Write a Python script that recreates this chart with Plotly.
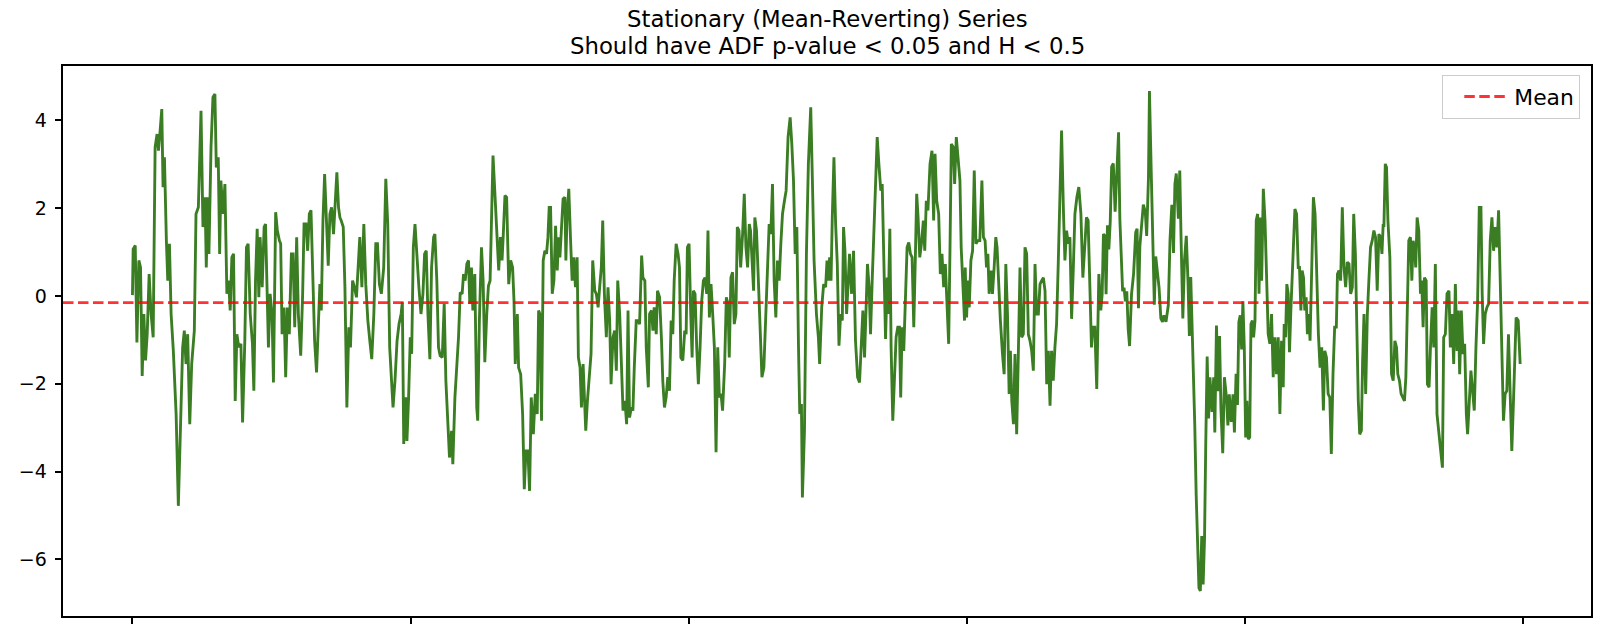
import plotly.graph_objects as go

# ---- data (index, value) ----
segment_000 = [(0, 0.02), (0.5, 1.07), (2.0, 1.15), (3.2, -1.06), (4.6, 0.81), (5.8, 0.65), (7.0, -1.82), (8.2, -0.41), (9.4, -1.47), (10.6, -0.87), (12.0, 0.50), (13.4, -0.41), (14.9, -0.94), (16.3, 3.39), (17.7, 3.69), (18.7, 3.31), (19.9, 3.77), (21.1, 4.26), (22.0, 2.48), (23.0, 3.16), (24.4, 1.26), (25.4, 0.35), (26.6, 1.19), (27.8, -0.41), (29.4, -1.25), (31.4, -2.69), (33.0, -4.78), (34.5, -2.69), (36.1, -1.17), (37.3, -0.79), (38.5, -1.55), (39.7, -0.87), (41.2, -2.92), (42.6, -1.55), (44.5, -0.79), (45.7, 1.87), (47.4, 2.02), (49.3, 4.22), (50.7, 1.57), (52.2, 2.25), (53.1, 0.65), (54.1, 2.25), (55.0, 0.96), (56.5, 3.39), (57.9, 4.53), (59.3, 4.60), (60.3, 2.93), (61.7, 3.16), (62.7, 0.96), (63.6, 2.63), (65.1, 1.87), (66.5, 2.55), (67.9, 0.05), (69.1, 0.35), (70.3, -0.33), (71.5, 0.88), (72.7, 0.96), (73.9, -2.39), (75.1, -0.87), (76.5, -1.17), (78.0, -1.09), (79.2, -2.88), (80.8, -1.02), (82.0, 1.11), (83.2, 1.19), (84.7, -0.41), (86.3, -1.09), (87.3, -2.16), (88.5, 0.35), (89.7, 1.53), (90.9, -0.03), (91.8, 1.34), (93.3, 0.20), (94.7, 1.57), (95.7, 1.64)]
segment_100 = [(97.8, -1.17), (99.0, 0.05), (100.4, -0.41), (101.4, -1.97), (103.0, 1.91), (104.2, 1.49), (105.7, 1.26), (106.6, 1.19), (107.6, -0.87), (109.0, -0.26), (110.2, -1.85), (111.4, -0.26), (112.8, -0.87), (114.3, 0.96), (115.5, 0.96), (116.7, -0.71), (118.1, 1.34), (119.3, -0.41), (121.0, -1.36), (122.4, 0.05), (123.4, 1.64), (124.8, 1.64), (126.0, 1.03), (127.2, 1.87), (128.4, 1.95), (129.6, 0.35), (131.0, -1.02), (132.4, -1.74), (133.9, -0.41), (134.8, 0.27), (135.8, -0.33), (137.0, 1.72), (138.2, 2.78), (139.6, 1.79), (140.8, 0.69), (142.0, 1.87), (143.2, 2.02), (144.6, 1.41), (145.8, 2.02), (147.0, 2.82), (148.2, 2.02), (149.2, 1.79), (150.1, 1.72), (151.6, 1.57), (152.8, 0.20), (154.2, -2.54), (155.6, -0.71), (156.8, -1.17), (158.3, 0.35), (159.7, 0.20), (161.1, -0.03), (162.3, 0.65), (163.5, 1.34), (165.0, 0.20), (166.4, 1.64), (167.8, 0.27), (169.3, -0.56), (170.7, -1.02), (172.1, -1.44), (173.6, -0.41), (175.0, 1.19), (176.2, 1.19), (177.6, 0.27), (179.0, 0.05), (180.7, 0.65), (182.2, 2.67), (183.6, 1.64), (185.0, -1.17), (186.2, -1.85), (187.4, -2.54), (188.8, -1.93), (190.3, -1.02), (191.7, -0.64), (193.2, -0.41), (194.1, -0.14), (195.1, -3.37), (196.5, -2.31)]
segment_200 = [(197.4, -3.30), (198.6, -2.31), (199.8, -0.94), (200.8, -1.32), (202.0, 1.11), (203.2, 1.64), (204.6, 0.81), (206.0, 0.20), (207.5, -0.41), (208.9, 0.05), (210.1, 0.96), (211.3, 1.03), (212.5, -0.41), (213.9, -1.44), (215.1, 0.65), (216.6, 1.34), (217.5, 1.41), (218.9, 0.35), (220.1, -1.17), (221.3, -1.36), (222.8, -1.40), (224.2, -0.18), (225.4, -1.93), (226.6, -2.69), (228.0, -3.68), (229.5, -3.07), (230.4, -3.83), (231.9, -2.31), (233.3, -1.63), (234.5, -0.94), (235.7, 0.08), (237.1, 0.05), (238.1, 0.50), (239.3, 0.35), (240.5, 0.73), (241.7, 0.81), (242.6, -0.18), (243.8, 0.65), (244.8, -0.33), (246.2, 0.50), (247.6, -2.54), (248.3, -2.84), (249.5, -0.56), (251.0, 1.11), (252.2, 0.35), (253.4, -1.51), (254.8, -0.41), (256.0, 0.23), (257.2, 0.35), (258.4, 2.02), (259.3, 3.20), (260.8, 2.25), (262.0, 1.49), (263.4, 0.58), (264.6, 1.34), (265.8, 0.81), (266.7, 1.41), (267.9, 2.29), (269.1, 2.25), (270.6, 0.27), (272.0, 0.81), (273.4, 0.65), (274.4, -0.11), (275.3, -1.55), (276.8, -0.41), (277.7, -1.63), (279.2, -1.78), (280.6, -2.69), (281.8, -4.40), (283.0, -3.53), (284.4, -3.53), (285.6, -4.44), (286.8, -2.31), (288.3, -3.15), (289.7, -2.23), (291.1, -2.69), (292.1, -0.33), (293.0, -0.41), (294.2, -2.84), (295.4, 0.81), (296.6, 1.03)]
segment_300 = [(297.8, 0.96), (298.8, 1.34), (299.7, 2.02), (300.7, 2.02), (301.9, 0.05), (303.1, 0.35), (304.3, 1.60), (305.5, 0.58), (306.4, 1.34), (307.4, 0.88), (308.6, 1.57), (309.7, 2.21), (311.0, 2.25), (311.7, 0.81), (312.6, 1.87), (313.8, 2.44), (315.0, 1.34), (316.2, 0.35), (317.4, 0.88), (318.6, 0.20), (319.8, 0.88), (320.7, -1.40), (321.9, -1.63), (322.9, -2.54), (324.1, -1.55), (325.0, -2.54), (326.0, -3.07), (327.2, -2.39), (328.4, -1.93), (329.8, -1.32), (331.0, 0.81), (332.5, 0.12), (333.6, 0.05), (334.9, -0.26), (336.0, 0.20), (337.2, 0.65), (338.2, 1.72), (339.4, 0.05), (340.8, -0.94), (342.0, 0.20), (343.2, -0.56), (344.2, -2.01), (345.6, -0.94), (346.8, -0.79), (348.0, -1.70), (349.0, 0.35), (350.4, -0.41), (351.6, -1.32), (352.8, -2.61), (354.2, -2.39), (355.4, -2.92), (356.4, -0.33), (357.5, -2.77), (358.8, -2.54), (359.9, -2.61), (360.9, -1.63), (362.3, -0.56), (363.5, -0.56), (364.7, -0.64), (366.2, 0.92), (367.1, 0.42), (368.5, 0.35), (369.5, -1.17), (371.0, -2.08), (371.9, -0.41), (373.3, -0.33), (374.3, -0.79), (375.2, -0.26), (376.7, -0.87), (377.6, 0.12), (379.1, -0.03), (380.5, -1.02), (381.4, -1.93), (382.6, -2.54), (383.8, -2.31), (385.0, -1.85), (386.2, -2.16), (387.4, -0.56), (388.6, -0.87), (389.6, 0.35), (391.0, 1.19), (392.4, 0.96), (393.4, 0.65), (394.4, -1.40), (395.8, -1.47), (397.2, -0.79)]
segment_400 = [(398.2, -0.87), (399.1, 1.11), (400.3, 1.19), (401.5, -0.41), (402.5, -1.40), (403.4, 0.12), (404.6, 0.05), (405.8, -1.17), (407.0, -2.01), (408.2, -1.17), (409.4, -0.11), (410.6, 0.35), (411.8, 0.42), (413.0, 0.05), (413.9, 1.49), (414.9, -0.49), (416.1, 0.27), (417.3, -0.41), (418.5, -1.17), (419.7, -3.56), (420.9, -1.17), (422.1, -2.31), (423.3, -2.23), (424.4, -2.61), (425.9, -1.55), (427.1, -0.03), (428.3, -0.18), (429.2, -1.40), (430.4, 0.42), (431.6, 0.54), (432.8, -0.64), (434.0, -0.41), (435.0, 1.57), (436.2, 1.49), (437.4, 0.65), (438.8, 1.41), (440.0, 2.33), (441.2, 1.11), (442.4, 0.65), (443.6, 1.64), (444.5, 1.49), (445.5, 0.88), (446.7, 0.12), (447.6, 1.79), (448.8, 1.49), (449.8, 0.65), (451.2, -0.79), (452.7, -1.85), (454.1, -1.63), (455.5, -0.41), (456.7, 0.81), (457.9, 1.64), (459.1, 1.41), (460.3, 2.55), (461.5, 0.35), (462.7, -0.49), (463.9, 0.81), (465.1, 0.35), (466.3, 1.19), (467.5, 1.87), (468.9, 2.17), (470.1, 2.40), (471.5, 3.62), (473.0, 4.07), (474.2, 3.46), (475.4, 2.63), (476.6, 0.96), (477.8, 1.57), (479.0, -1.17), (479.9, -2.69), (481.1, -2.46), (481.8, -4.59), (483.3, -3.07), (484.7, 0.96), (486.1, 3.01), (487.8, 4.30), (489.0, 2.63), (490.2, 0.81), (491.9, -0.41), (493.3, -0.94), (494.2, -1.55), (495.7, -0.26), (497.1, 0.27)]
segment_500 = [(498.5, 0.20), (499.5, 0.81), (500.4, 0.35), (501.4, 0.88), (502.4, 0.35), (503.3, 1.79), (504.5, 3.16), (505.7, 1.64), (506.9, 0.73), (508.1, -1.13), (509.3, -0.41), (510.5, -0.56), (511.4, 1.57), (512.4, 1.03), (513.6, -0.41), (514.8, 0.35), (515.7, 0.96), (517.2, 0.05), (518.6, 1.03), (520.0, -1.02), (521.5, -1.85), (522.9, -1.97), (524.3, -1.17), (525.3, -0.33), (526.5, -1.40), (527.7, -0.33), (528.6, 0.73), (529.8, 0.20), (530.8, -0.87), (532.0, 0.35), (533.2, 1.49), (534.4, 2.63), (535.6, 3.62), (536.8, 3.01), (538.2, 2.40), (539.2, 2.55), (540.4, 0.58), (541.6, -0.98), (542.8, 0.42), (543.5, -0.41), (544.7, 1.53), (545.6, -1.17), (546.8, -2.84), (548.0, -1.93), (549.2, -0.94), (550.4, -0.71), (551.6, -0.71), (552.5, -2.31), (553.5, -0.71), (554.7, -1.25), (555.9, 0.05), (557.1, 1.11), (558.3, 1.22), (559.5, 0.96), (560.7, 0.88), (561.9, -0.71), (563.1, 0.96), (564.0, 2.33), (565.0, 1.79), (566.2, 0.88), (567.4, 1.19), (568.8, 1.72), (569.8, 1.03), (570.9, 2.17), (572.1, 1.95), (573.6, 3.01), (575.0, 3.31), (576.2, 1.72), (577.2, 3.24), (578.4, 2.17), (579.8, 1.87), (581.0, 0.50), (582.2, 0.96), (583.4, 0.20), (584.6, 0.73), (585.8, -0.03), (587.0, -1.09), (587.9, 0.96), (588.9, 3.46), (590.3, 3.39), (591.3, 2.55), (592.5, 3.62), (593.7, 3.09), (595.1, 2.63), (596.0, 1.11), (597.0, 0.35), (598.4, -0.56)]
segment_600 = [(598.9, 0.65), (599.9, -0.49), (600.8, 0.35), (601.8, -0.26), (603.0, 0.81), (604.2, 1.03), (605.4, 2.86), (606.6, 1.19), (608.0, 1.26), (609.4, 1.26), (610.9, 2.63), (612.0, 1.34), (613.2, 1.26), (614.2, 0.65), (615.2, 0.96), (616.1, 0.05), (617.5, 0.58), (618.5, 0.05), (619.7, 0.65), (620.9, 1.34), (621.8, 1.11), (622.8, 0.35), (624.2, -0.56), (625.7, -1.32), (626.9, -1.78), (628.1, 0.73), (629.3, -0.41), (630.5, -2.23), (631.4, -1.25), (632.4, -2.39), (633.6, -2.92), (634.7, -1.32), (635.9, -3.15), (637.1, -1.32), (638.3, 0.65), (639.5, -0.94), (640.7, -0.87), (641.9, 1.11), (643.1, 0.96), (644.3, -0.87), (645.5, -1.02), (646.7, -1.25), (647.9, -1.70), (649.1, 0.73), (650.3, -0.41), (651.5, -0.41), (652.7, 0.27), (653.9, 0.35), (655.1, 0.42), (656.3, 0.12), (657.5, -2.01), (658.7, -1.25), (659.9, -2.50), (661.0, -1.25), (662.2, -1.93), (663.4, -1.17), (664.6, -0.64), (665.8, 0.73), (667.0, 2.25), (668.2, 3.77), (669.6, 1.87), (670.6, 0.81), (671.8, 1.49), (673.0, 1.19), (674.2, 1.34), (675.4, -0.52), (676.6, 0.58), (677.8, 1.87), (679.2, 2.25), (680.6, 2.48), (682.1, 1.87), (683.5, 0.42), (685.0, 1.19), (686.1, 1.79), (687.3, 1.72), (688.5, 0.20), (689.7, -1.17), (690.7, -0.71), (692.1, -0.71), (693.5, -2.12), (695.0, 0.50), (696.4, -0.33), (697.4, 0.05), (698.3, 1.41)]
segment_700 = [(699.3, 1.37), (700.2, 0.04), (701.2, 1.61), (702.2, 1.06), (703.2, 1.69), (704.2, 2.94), (705.4, 3.02), (706.7, 1.92), (707.9, 2.94), (709.2, 3.73), (710.1, 1.76), (711.1, 0.82), (712.1, 0.11), (713.1, 0.19), (714.1, -0.12), (715.1, 0.11), (716.1, -0.75), (717.1, -1.14), (718.5, 0.04), (720.0, 0.51), (721.5, 1.45), (722.5, 1.53), (723.5, -0.28), (724.5, 1.13), (725.5, 1.61), (727.0, 2.08), (728.4, 1.92), (729.4, 1.37), (730.7, 2.71), (731.4, 4.67), (732.6, 2.94), (733.9, 0.98), (734.9, -0.20), (735.9, 0.90), (737.1, 0.51), (738.3, 0.19), (739.6, -0.51), (740.8, -0.59), (741.8, -0.44), (743.3, -0.59), (745.0, -0.20), (746.2, 1.29), (747.5, 2.08), (748.7, 0.98), (749.7, 2.55), (750.7, 2.79), (752.2, 1.76), (753.2, 2.86), (754.1, 1.37), (755.4, -0.51), (756.6, 0.82), (757.9, 1.37), (759.1, 0.35), (760.1, -0.91), (761.1, 0.43), (762.5, -0.99), (764.0, -2.95), (765.0, -4.52), (766.0, -5.86), (767.0, -6.65), (768.0, -6.72), (769.0, -5.47), (770.0, -6.57), (771.0, -5.54), (771.9, -3.34), (772.9, -1.38), (773.9, -2.79), (774.9, -1.85), (776.4, -2.64), (777.6, -1.85), (778.4, -3.11), (779.6, -0.67), (780.8, -2.17), (781.8, -0.91), (782.8, -2.56), (784.1, -3.58), (785.3, -1.85), (786.8, -2.32), (787.8, -2.95), (788.8, -2.24), (790.2, -2.87), (791.5, -2.24), (792.5, -3.11), (793.7, -1.77), (794.7, -2.48), (795.7, -0.59), (796.7, -0.44), (797.7, -1.22), (798.6, -0.12)]
segment_800 = [(799.6, -1.17), (800.6, -3.22), (801.5, -2.39), (802.5, -3.26), (803.5, -3.22), (804.4, -0.64), (805.4, -0.56), (806.3, -0.94), (807.3, -0.56), (808.2, 1.72), (809.2, 1.87), (810.2, 0.05), (811.1, 1.79), (812.1, 0.35), (813.3, 2.44), (814.5, 1.72), (815.6, 0.58), (816.8, -0.87), (818.0, -1.09), (819.2, -0.41), (820.4, -1.85), (821.6, -0.94), (822.8, -1.78), (824.0, -0.94), (825.2, -2.69), (826.4, -1.02), (827.6, -2.08), (828.3, -0.64), (829.3, -0.94), (830.2, 0.27), (831.2, 0.05), (832.1, -1.28), (833.1, -0.33), (834.5, 0.65), (836.0, 1.98), (837.2, 1.87), (838.4, 0.65), (839.3, 0.65), (840.3, -0.33), (841.2, 0.58), (842.2, 0.42), (843.1, -0.33), (844.1, -0.03), (845.0, -0.87), (846.0, -0.41), (846.9, -1.02), (848.2, 0.65), (849.3, 2.25), (850.5, 1.87), (851.7, 0.20), (852.9, -0.87), (854.1, -1.63), (855.3, -1.17), (856.5, -2.61), (857.5, -1.25), (858.7, -1.40), (859.9, -2.23), (861.1, -2.31), (862.2, -3.60), (863.4, -1.78), (864.6, -0.71), (865.8, -0.71), (866.6, 0.50), (867.7, 0.58), (868.9, 0.35), (870.1, 2.02), (871.3, 0.65), (872.5, 0.20), (873.7, 0.77), (874.9, 0.73), (876.1, 0.05), (877.3, 0.20), (878.3, 1.87), (879.5, 0.96), (880.4, -0.79), (881.6, -2.39), (882.6, -3.15), (883.8, -3.07), (884.7, -1.47), (885.7, -0.41), (886.9, -2.23), (888.1, -0.41), (889.3, 0.42), (890.4, 1.11), (891.6, 1.26), (892.8, 1.49), (894.0, 1.34), (895.2, 0.12), (896.4, 1.41), (897.6, 1.34), (898.6, 0.96), (899.5, 1.64)]
segment_900 = [(900.0, 1.57), (901.0, 3.01), (901.9, 2.93), (902.9, 1.72), (904.3, 0.88), (905.5, -1.78), (906.7, -1.93), (907.9, -1.02), (909.1, -1.17), (910.0, -1.78), (911.2, -1.93), (912.4, -2.23), (913.6, -2.31), (914.8, -2.39), (915.8, -1.85), (917.0, 0.35), (917.9, 1.26), (919.1, 1.34), (920.1, 0.35), (921.0, 1.26), (922.0, 1.11), (922.9, 0.65), (923.9, 1.79), (925.1, 1.49), (926.3, 0.05), (927.2, 0.35), (928.2, -0.71), (929.2, 0.42), (930.4, 0.35), (931.3, -2.01), (932.5, -2.08), (933.5, -1.17), (934.7, -0.26), (935.9, -1.17), (937.0, 0.73), (938.2, -2.69), (939.4, -3.15), (940.6, -3.45), (942.1, -3.91), (943.0, -0.94), (944.2, -0.87), (945.4, 0.05), (946.8, 0.12), (947.8, -1.17), (949.0, -0.41), (950.2, -1.55), (951.4, 0.27), (952.6, -1.25), (953.5, -0.33), (954.5, -1.78), (955.7, -0.33), (956.9, -1.32), (958.1, -1.09), (959.3, -2.69), (960.2, -3.15), (961.4, -2.54), (962.6, -1.70), (963.8, -2.16), (965.0, -2.61), (966.2, -1.17), (967.4, -0.11), (968.6, 2.02), (969.8, 2.02), (970.7, 0.05), (971.7, -1.09), (972.9, -0.41), (974.1, -0.26), (975.3, -0.18), (976.5, 1.26), (977.7, 1.79), (978.9, 1.03), (980.1, 1.57), (981.3, 1.11), (982.5, 1.95), (983.7, 0.12), (984.9, -1.78), (986.0, -2.84), (987.2, -2.23), (988.4, -2.16), (989.6, -0.87), (990.8, -2.39), (992.0, -3.53), (993.2, -2.39), (994.2, -1.02), (995.1, -0.49), (996.6, -0.56), (998.0, -1.55)]

mean_value = -0.15
series_length = 1000
x_ticks = [0, 200, 400, 600, 800, 1000]
y_ticks = [-6, -4, -2, 0, 2, 4]
title_lines = ["Stationary (Mean-Reverting) Series",
               "Should have ADF p-value &lt; 0.05 and H &lt; 0.5"]

segments = [segment_000, segment_100, segment_200, segment_300, segment_400,
            segment_500, segment_600, segment_700, segment_800, segment_900]
t = [p[0] for s in segments for p in s]
v = [p[1] for s in segments for p in s]

# matplotlib-like 5% autoscale margins
x_lo, x_hi = 0, series_length - 1
x_pad = 0.05 * (x_hi - x_lo)
y_lo, y_hi = min(v), max(v)
y_pad = 0.05 * (y_hi - y_lo)

FONT = "DejaVu Sans"
PT = 1.9  # pixels per point in the reference

fig = go.Figure()
fig.add_trace(go.Scatter(
    x=t, y=v, mode="lines",
    line=dict(color="rgb(58,125,34)", width=1.5 * PT),
    showlegend=False, hoverinfo="skip",
))
fig.add_hline(
    y=mean_value,
    line=dict(color="rgba(255,0,0,0.8)", width=1.5 * PT, dash="10.5px,4.5px"),
    showlegend=True, name="Mean",
)

axis_common = dict(
    showline=True, mirror=True, linecolor="black", linewidth=0.8 * PT,
    ticks="outside", ticklen=3.5 * PT, tickwidth=0.8 * PT, tickcolor="black",
    showgrid=False, zeroline=False,
    tickfont=dict(family=FONT, size=10 * PT, color="black"),
)

# two title lines, placed like matplotlib (centres ~18 px and ~46 px from top)
for line_text, shift in zip(title_lines, [47.5, 20.0]):
    fig.add_annotation(
        text=line_text, x=0.5, xref="paper", xanchor="center",
        y=1, yref="paper", yanchor="middle", yshift=shift,
        showarrow=False,
        font=dict(family=FONT, size=12 * PT, color="black"),
    )

fig.update_layout(
    width=1600, height=642,
    margin=dict(l=63, r=7, t=66, b=26),
    paper_bgcolor="white", plot_bgcolor="white",
    font=dict(family=FONT, size=10 * PT, color="black"),
    xaxis=dict(range=[x_lo - x_pad, x_hi + x_pad], tickvals=x_ticks,
               showticklabels=False, **axis_common),
    yaxis=dict(range=[y_lo - y_pad, y_hi + y_pad], tickvals=y_ticks,
               ticklabelstandoff=4, **axis_common),
    legend=dict(
        x=0.993, y=0.984, xanchor="right", yanchor="top",
        bgcolor="rgba(255,255,255,0.8)", bordercolor="rgb(204,204,204)",
        borderwidth=1, font=dict(family=FONT, size=11.5 * PT, color="black"),
        itemwidth=45, indentation=16,
    ),
)

fig.write_html("out.html")
